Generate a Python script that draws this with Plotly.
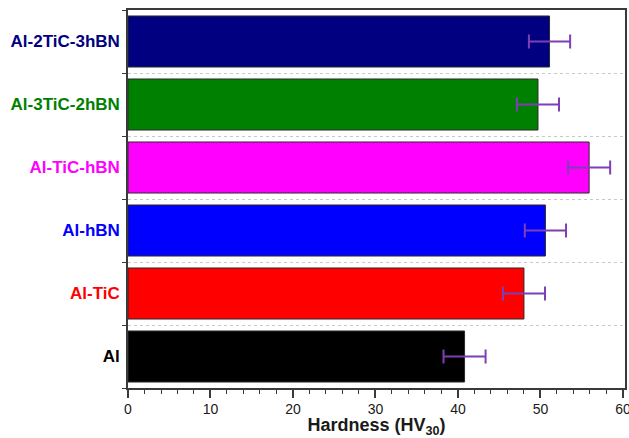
import plotly.graph_objects as go

# Vickers hardness of the aluminium composites
samples = ["Al", "Al-TiC", "Al-hBN", "Al-TiC-hBN", "Al-3TiC-2hBN", "Al-2TiC-3hBN"]
hardness = [40.8, 48.0, 50.6, 55.9, 49.7, 51.1]
hardness_err = [2.55, 2.55, 2.5, 2.55, 2.55, 2.5]
bar_colors = ["#000000", "#FF0000", "#0000FF", "#FF00FF", "#008000", "#000080"]

positions = list(range(len(samples)))
boundaries = [p - 0.5 for p in positions] + [positions[-1] + 0.5]

label_text = [
    f"<span style='color:{c}'><b>{s}</b></span>" for s, c in zip(samples, bar_colors)
]

fig = go.Figure()
fig.add_trace(
    go.Bar(
        x=hardness,
        y=positions,
        orientation="h",
        marker=dict(color=bar_colors, line=dict(color="#2a2a2a", width=1)),
        width=0.81,
        error_x=dict(
            type="data",
            array=hardness_err,
            visible=True,
            color="#7E3FB5",
            thickness=2,
            width=7,
        ),
        showlegend=False,
    )
)

axis_line = "#3a3a3a"
fig.update_layout(
    width=629,
    height=438,
    margin=dict(l=128, r=4, t=10, b=50, autoexpand=False),
    paper_bgcolor="white",
    plot_bgcolor="white",
    font=dict(family="Liberation Sans, Arial, sans-serif", color="#1a1a1a"),
    xaxis=dict(
        range=[0, 60.25],
        tickvals=[0, 10, 20, 30, 40, 50, 60],
        ticks="outside",
        ticklen=8,
        tickwidth=1.5,
        tickcolor=axis_line,
        minor=dict(dtick=2, ticks="outside", ticklen=4, tickwidth=1.3, tickcolor=axis_line),
        tickfont=dict(size=14, color="#1a1a1a"),
        ticklabeloverflow="allow",
        ticklabelstandoff=-1,
        automargin=False,
        showline=True,
        linecolor=axis_line,
        linewidth=1.5,
        mirror=True,
        showgrid=False,
        zeroline=False,
        title=dict(
            text="<b>Hardness (HV<sub>30</sub>)</b>",
            font=dict(size=18, color="#1a1a1a"),
            standoff=7,
        ),
    ),
    yaxis=dict(
        range=[-0.5, 5.5],
        tickvals=positions,
        ticktext=label_text,
        ticks="",
        tickfont=dict(size=17),
        ticklabelstandoff=3,
        automargin=False,
        minor=dict(
            tickvals=boundaries,
            ticks="outside",
            ticklen=4,
            tickwidth=1.3,
            tickcolor=axis_line,
            showgrid=True,
            gridcolor="#c8c8c8",
            griddash="dot",
            gridwidth=1,
        ),
        showline=True,
        linecolor=axis_line,
        linewidth=1.5,
        mirror=True,
        showgrid=False,
        zeroline=False,
    ),
    yaxis2=dict(
        range=[-0.5, 5.5],
        overlaying="y",
        side="left",
        tickvals=boundaries,
        ticktext=[""] * len(boundaries),
        showticklabels=False,
        ticks="inside",
        ticklen=4,
        tickwidth=1.3,
        tickcolor=axis_line,
        showgrid=False,
        zeroline=False,
        showline=False,
        automargin=False,
    ),
    bargap=0.19,
)

fig.write_html("out.html")
